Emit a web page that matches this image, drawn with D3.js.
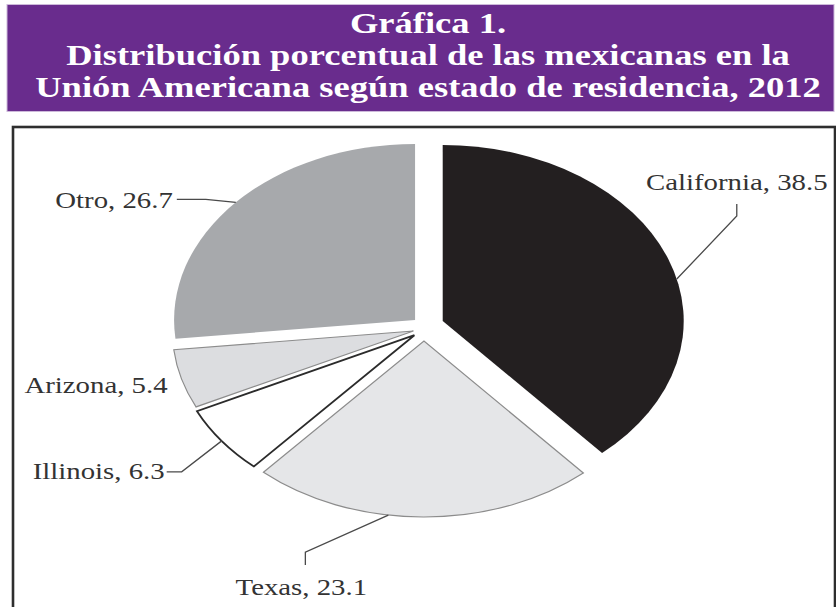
<!DOCTYPE html>
<html>
<head>
<meta charset="utf-8">
<script src="https://cdn.jsdelivr.net/npm/d3@7"></script>
<style>
  html, body { margin: 0; padding: 0; background: #ffffff; }
  svg { display: block; }
</style>
</head>
<body>
<svg id="chart" width="836" height="607"></svg>
<script>
// ---- data ----
const titleLines = ["Gráfica 1.", "Distribución porcentual de las mexicanas en la", "Unión Americana según estado de residencia, 2012"];
const categories = ["California", "Texas", "Illinois", "Arizona", "Otro"];
const values = [38.5, 23.1, 6.3, 5.4, 26.7];

// ---- styles / layout ----
const W = 836, H = 607;
const svg = d3.select("#chart");
const fills = { California: "#231f20", Texas: "#e5e6e8", Illinois: "#ffffff", Arizona: "#dcdde0", Otro: "#a7a9ac" };
const strokes = { California: "none", Texas: "#8c8c8c", Illinois: "#2b2b2b", Arizona: "#8c8c8c", Otro: "none" };
const strokeW = { California: 0, Texas: 1.2, Illinois: 1.8, Arizona: 1.2, Otro: 0 };
const explode = { California: 20, Texas: 13, Illinois: 12, Arizona: 11, Otro: 12 };
const stretch = 1.2; // horizontal stretch of the original picture

// title banner
svg.append("rect").attr("x", 7).attr("y", 4.5).attr("width", 827).attr("height", 107)
  .attr("fill", "#692c8d").attr("stroke", "#cdb9da").attr("stroke-width", 1);
const titleBase = [33, 65, 97];
titleLines.forEach((t, i) => {
  svg.append("g").attr("transform", `translate(428,${titleBase[i]}) scale(1.26,1)`)
    .append("text").attr("text-anchor", "middle")
    .attr("font-family", "'Liberation Serif', 'DejaVu Serif', serif")
    .attr("font-weight", "bold").attr("font-size", 29).attr("fill", "#ffffff")
    .text(t);
});

// chart box
svg.append("rect").attr("x", 13).attr("y", 127).attr("width", 822).attr("height", 520)
  .attr("fill", "#ffffff").attr("stroke", "#2e2e2e").attr("stroke-width", 2.6);

// pie
const cx = 424, cy = 328, R = 176, kx = 241 / 176;
const data = categories.map((c, i) => ({ name: c, value: values[i] }));
const pie = d3.pie().sort(null).value(d => d.value).startAngle(0).endAngle(2 * Math.PI);
const arcs = pie(data);
const arc = d3.arc().innerRadius(0).outerRadius(R);

arcs.forEach(a => {
  const mid = (a.startAngle + a.endAngle) / 2;
  const d = explode[a.data.name];
  a.ox = cx + d * Math.sin(mid);
  a.oy = cy - d * Math.cos(mid);
});

svg.append("g").selectAll("path").data(arcs).join("path")
  .attr("transform", a => `translate(${a.ox},${a.oy}) scale(${kx},1)`)
  .attr("d", arc)
  .attr("fill", a => fills[a.data.name])
  .attr("stroke", a => strokes[a.data.name])
  .attr("stroke-width", a => strokeW[a.data.name])
  .attr("stroke-linejoin", "miter")
  .attr("vector-effect", "non-scaling-stroke");

// labels: anchor fraction along slice, leader offsets relative to anchor, text offset & anchor
const labelLayout = {
  California: { f: 0.55, pts: [[60, -63], [60, -75]], text: [60, -89], anchor: "middle" },
  Texas:      { f: 0.60, pts: [[-83, 37], [-83, 50]], text: [-87, 80], anchor: "middle" },
  Illinois:   { f: 0.50, pts: [[-40, 31], [-55, 31]], text: [-57, 38], anchor: "end" },
  Arizona:    { f: 0.50, pts: [], text: [-14, 14], anchor: "end" },
  Otro:       { f: 0.50, pts: [[-30, -3], [-59, -3]], text: [-63, 6], anchor: "end" }
};

const lab = svg.append("g");
arcs.forEach((a, i) => {
  const L = labelLayout[a.data.name];
  const ang = a.startAngle + L.f * (a.endAngle - a.startAngle);
  const ax = a.ox + R * kx * Math.sin(ang);
  const ay = a.oy - R * Math.cos(ang);
  if (L.pts.length) {
    const line = [[ax, ay]].concat(L.pts.map(p => [ax + p[0], ay + p[1]]));
    lab.append("path").attr("d", d3.line().curve(d3.curveLinear)(line))
      .attr("fill", "none").attr("stroke", "#4a4a4a").attr("stroke-width", 1.3);
  }
  lab.append("g").attr("transform", `translate(${ax + L.text[0]},${ay + L.text[1]}) scale(${stretch},1)`)
    .append("text").attr("text-anchor", L.anchor)
    .attr("font-family", "'Liberation Serif', 'DejaVu Serif', serif")
    .attr("font-size", 24).attr("fill", "#333333")
    .text(`${a.data.name}, ${values[i]}`);
});
</script>
</body>
</html>
